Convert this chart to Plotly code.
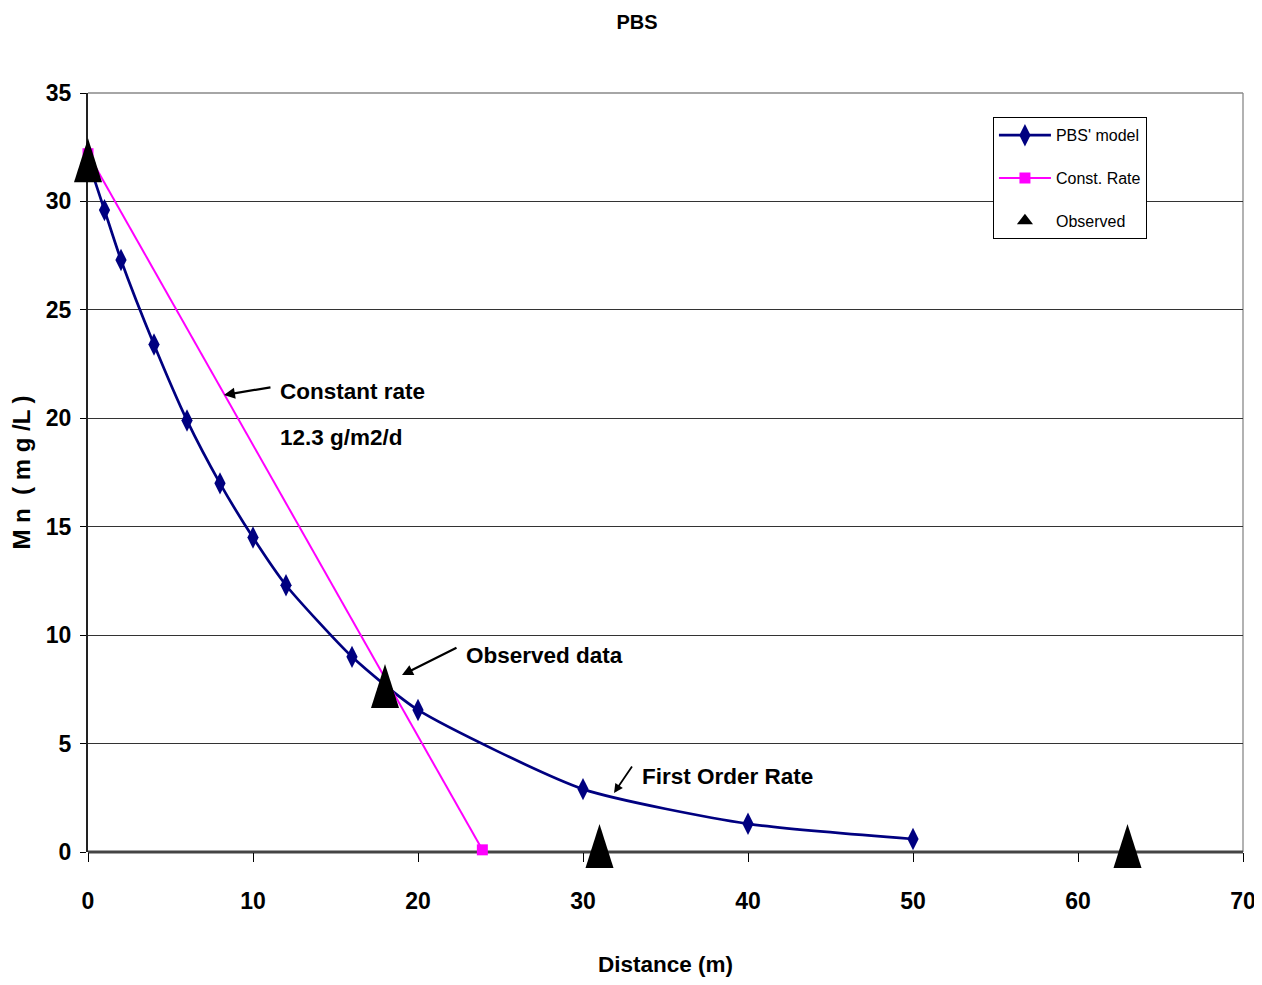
import plotly.graph_objects as go

FONT = "Liberation Sans, Arial, sans-serif"

# PBS' model
model_x = [0, 1, 2, 4, 6, 8, 10, 12, 16, 20, 30, 40, 50]
model_y = [31.9, 29.6, 27.3, 23.4, 19.9, 17.0, 14.5, 12.3, 9.0, 6.55, 2.9, 1.3, 0.6]

# Constant rate
const_x = [0, 23.9]
const_y = [32.2, 0.1]

# Observed
obs_x = [0, 18, 31, 63]
obs_y = [31.9, 7.65, 0.28, 0.28]

X_RANGE = [0, 70]
Y_RANGE = [0, 35]

fig = go.Figure()
fig.add_trace(go.Scatter(
    x=model_x, y=model_y, name="PBS' model", mode="lines+markers", legendgroup="a",
    line=dict(color="#000080", width=2.7, shape="spline", smoothing=0.6),
    marker=dict(symbol="diamond-tall", size=16, color="#000080"), cliponaxis=False,
))
fig.add_trace(go.Scatter(
    x=const_x, y=const_y, name="Const. Rate", mode="lines+markers", legendgroup="b",
    line=dict(color="#FF00FF", width=2),
    marker=dict(symbol="square", size=11, color="#FF00FF"), cliponaxis=False,
))
fig.add_trace(go.Scatter(
    x=obs_x, y=obs_y, name="Observed", mode="markers", legendgroup="c",
    marker=dict(symbol="triangle-up", size=14, color="black"), cliponaxis=False,
))

# tall triangles for the observed markers (pixel-sized, anchored on the data position)
shapes = []
for xv, yv in zip(obs_x, obs_y):
    px = (xv - X_RANGE[0]) / (X_RANGE[1] - X_RANGE[0])
    py = (yv - Y_RANGE[0]) / (Y_RANGE[1] - Y_RANGE[0])
    shapes.append(dict(type="path", xref="paper", yref="paper", xsizemode="pixel", ysizemode="pixel",
                       xanchor=px, yanchor=py, path="M -14,-22 L 14,-22 L 0,22 Z",
                       fillcolor="black", line=dict(color="black", width=0), layer="above"))
shapes.append(dict(type="line", xref="paper", yref="paper", x0=1, x1=1, y0=0, y1=1,
                   line=dict(color="#999999", width=1.5), layer="below"))
shapes.append(dict(type="line", xref="paper", yref="paper", x0=0, x1=1, y0=1, y1=1,
                   line=dict(color="#888888", width=1.5), layer="below"))
shapes.append(dict(type="line", xref="paper", yref="paper", x0=0, x1=1, y0=0, y1=0,
                   line=dict(color="#444444", width=3), layer="below"))

ann_font = dict(family=FONT, size=22.5, color="black", weight="bold")
annotations = [
    dict(x=8.24, y=21.07, ax=48, ay=-8, xref="x", yref="y", text="", showarrow=True,
         arrowhead=2, arrowsize=1, arrowwidth=2.2, arrowcolor="black"),
    dict(x=11.5, y=21.25, xref="x", yref="y", text="Constant rate", showarrow=False,
         xanchor="left", yanchor="middle", font=ann_font),
    dict(x=11.5, y=19.1, xref="x", yref="y", text="12.3 g/m2/d", showarrow=False,
         xanchor="left", yanchor="middle", font=ann_font),
    dict(x=19.03, y=8.16, ax=56, ay=-28, xref="x", yref="y", text="", showarrow=True,
         arrowhead=2, arrowsize=1, arrowwidth=2.2, arrowcolor="black"),
    dict(x=22.8, y=9.04, xref="x", yref="y", text="Observed data", showarrow=False,
         xanchor="left", yanchor="middle", font=ann_font),
    dict(x=31.88, y=2.72, ax=19, ay=-28, xref="x", yref="y", text="", showarrow=True,
         arrowhead=2, arrowsize=1, arrowwidth=1.8, arrowcolor="black"),
    dict(x=33.45, y=3.5, xref="x", yref="y", text="First Order Rate", showarrow=False,
         xanchor="left", yanchor="middle", font=ann_font),
]

tick_font = dict(family=FONT, size=23, color="black", weight="bold")

fig.update_layout(
    width=1262, height=985,
    margin=dict(l=80, r=27, t=85, b=141),
    paper_bgcolor="white", plot_bgcolor="white",
    font=dict(family=FONT, color="black"),
    title=dict(text="PBS", x=0.4985, xanchor="center", y=0.986, yanchor="middle",
               font=dict(family=FONT, size=20, color="black", weight="bold")),
    showlegend=True,
    legend=dict(x=0.7835, y=0.968, xanchor="left", yanchor="top",
                bgcolor="white", bordercolor="black", borderwidth=1,
                font=dict(family=FONT, size=16, color="black"),
                itemwidth=52, tracegroupgap=19),
    annotations=annotations,
    shapes=shapes,
    xaxis=dict(range=X_RANGE, tickvals=[0, 10, 20, 30, 40, 50, 60, 70],
               ticks="outside", ticklen=9, tickcolor="black", showgrid=False,
               zeroline=False, showline=False, automargin=False,
               ticklabelstandoff=19,
               tickfont=tick_font,
               title=dict(text="Distance (m)", standoff=43,
                          font=dict(family=FONT, size=22.5, weight="bold"))),
    yaxis=dict(range=Y_RANGE, tickvals=[0, 5, 10, 15, 20, 25, 30, 35],
               ticks="outside", ticklen=6, tickcolor="black", showgrid=True,
               gridcolor="#333333", gridwidth=1, zeroline=False, showline=True,
               linecolor="#222222", linewidth=2, automargin=False,
               ticklabelstandoff=4,
               tickfont=tick_font,
               title=dict(text="M n  ( m g /L )", standoff=8,
                          font=dict(family=FONT, size=24, weight="bold"))),
)

fig.write_html("out.html")
